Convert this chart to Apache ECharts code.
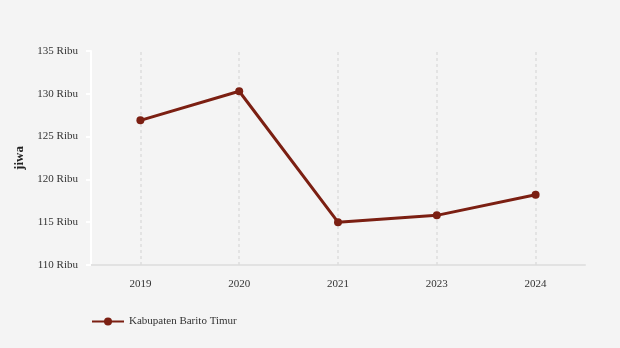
<!DOCTYPE html>
<html>
<head>
<meta charset="utf-8">
<script src="https://cdn.jsdelivr.net/npm/echarts@6/dist/echarts.min.js"></script>
<style>
  html, body { margin: 0; padding: 0; background: #f4f4f4; }
  #chart { width: 620px; height: 348px; }
</style>
</head>
<body>
<div id="chart"></div>
<script>
// Jumlah penduduk Kabupaten Barito Timur (ribu jiwa)
const years = ['2019', '2020', '2021', '2023', '2024'];
const population = [126.9, 130.3, 115.0, 115.8, 118.2];
const seriesName = 'Kabupaten Barito Timur';
const yMin = 110, yMax = 135, yStep = 5;

const font = '"Liberation Serif", "DejaVu Serif", serif';
const chart = echarts.init(document.getElementById('chart'));

chart.setOption({
  backgroundColor: '#f4f4f4',
  animation: false,
  textStyle: { fontFamily: font },
  grid: { left: 91, right: 35, top: 51, bottom: 83 },
  legend: {
    left: 86,
    top: 311,
    itemWidth: 32,
    itemHeight: 10,
    itemGap: 5,
    textStyle: { fontFamily: font, fontSize: 11, color: '#333' },
    data: [seriesName]
  },
  xAxis: {
    type: 'category',
    data: years,
    axisLine: { lineStyle: { color: '#e2e2e2', width: 2 } },
    axisTick: { show: false },
    axisLabel: { fontFamily: font, fontSize: 11, color: '#333', margin: 14 },
    splitLine: { show: false }
  },
  yAxis: {
    type: 'value',
    min: yMin,
    max: yMax,
    interval: yStep,
    name: 'jiwa',
    nameLocation: 'middle',
    nameGap: 58,
    nameRotate: 90,
    nameTextStyle: { fontFamily: font, fontSize: 13, fontWeight: 'bold', color: '#222' },
    axisLine: { show: true, lineStyle: { color: '#ffffff', width: 2 } },
    axisTick: { show: true, length: 5, lineStyle: { color: '#ffffff', width: 2 } },
    axisLabel: {
      fontFamily: font, fontSize: 11, color: '#333', margin: 13,
      padding: [4, 0, 0, 0],
      formatter: v => v + ' Ribu'
    },
    splitLine: { show: false }
  },
  series: [{
    name: seriesName,
    type: 'line',
    data: population,
    symbol: 'circle',
    symbolSize: 8,
    lineStyle: { color: '#7b1f12', width: 3 },
    itemStyle: { color: '#7b1f12' },
    z: 3,
    markLine: {
      silent: true,
      symbol: 'none',
      label: { show: false },
      lineStyle: { color: '#dddddd', type: [3, 3], width: 1.5 },
      z: 1,
      data: years.map(y => ({ xAxis: y }))
    }
  }]
});
</script>
</body>
</html>
